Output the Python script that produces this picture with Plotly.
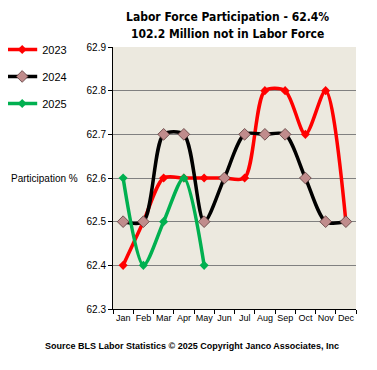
import plotly.graph_objects as go

months = ["Jan", "Feb", "Mar", "Apr", "May", "Jun", "Jul", "Aug", "Sep", "Oct", "Nov", "Dec"]
y2023 = [62.4, 62.5, 62.6, 62.6, 62.6, 62.6, 62.6, 62.8, 62.8, 62.7, 62.8, 62.5]
y2024 = [62.5, 62.5, 62.7, 62.7, 62.5, 62.6, 62.7, 62.7, 62.7, 62.6, 62.5, 62.5]
y2025 = [62.6, 62.4, 62.5, 62.6, 62.4]
y_ticks = [62.3, 62.4, 62.5, 62.6, 62.7, 62.8, 62.9]

fig = go.Figure()
fig.add_trace(go.Scatter(x=months, y=y2023, name="2023", mode="lines+markers",
                         line=dict(color="#FF0000", width=3.5, shape="spline", smoothing=0.8),
                         marker=dict(symbol="diamond", size=7, color="#FF0000"),
                         legendgroup="a"))
fig.add_trace(go.Scatter(x=months, y=y2024, name="2024", mode="lines+markers",
                         line=dict(color="#000000", width=3.5, shape="spline", smoothing=0.8),
                         marker=dict(symbol="diamond", size=9, color="#C08C8C",
                                     line=dict(color="#5a3a3a", width=0.8)),
                         legendgroup="b"))
fig.add_trace(go.Scatter(x=months[:len(y2025)], y=y2025, name="2025", mode="lines+markers",
                         line=dict(color="#00B050", width=3.5, shape="spline", smoothing=0.8),
                         marker=dict(symbol="diamond", size=7, color="#00B050"),
                         legendgroup="c"))

fig.update_layout(
    width=377, height=370,
    margin=dict(l=105, r=29, t=39, b=69, autoexpand=False),
    paper_bgcolor="white", plot_bgcolor="#ECE9DF",
    font=dict(family="Liberation Sans, Arial, sans-serif", size=10, color="black"),
    showlegend=True,
    legend=dict(x=-0.456, y=1.046, xanchor="left", yanchor="top", tracegroupgap=8,
                font=dict(size=11), bgcolor="rgba(0,0,0,0)", itemwidth=30),
    annotations=[
        dict(text="<b>Labor Force Participation - 62.4%</b>", x=0.47, y=1.0, xref="paper", yref="paper",
             xanchor="center", yanchor="bottom", yshift=21, showarrow=False,
             font=dict(size=12, family="DejaVu Sans Condensed, DejaVu Sans, sans-serif")),
        dict(text="<b>102.2 Million not in Labor Force</b>", x=0.47, y=1.0, xref="paper", yref="paper",
             xanchor="center", yanchor="bottom", yshift=4, showarrow=False,
             font=dict(size=12, family="DejaVu Sans Condensed, DejaVu Sans, sans-serif")),
        dict(text="Participation %", x=-0.136, y=62.6, xref="paper", yref="y",
             xanchor="right", yanchor="middle", showarrow=False, font=dict(size=10)),
        dict(text="<b>Source BLS Labor Statistics © 2025 Copyright Janco Associates, Inc</b>",
             x=0.325, y=0, xref="paper", yref="paper", xanchor="center", yanchor="top",
             yshift=-30, showarrow=False, font=dict(size=9)),
    ],
)
fig.update_xaxes(type="category", categoryorder="array", categoryarray=months, range=[-0.5, 11.5],
                 showline=True, linecolor="black", linewidth=1, ticks="outside", tickson="boundaries",
                 ticklen=4, tickcolor="black", showgrid=False, tickfont=dict(size=9), tickangle=0,
                 mirror=False, automargin=False)
fig.update_yaxes(range=[62.3, 62.9], tickvals=y_ticks, ticktext=[f"{v:.1f}" for v in y_ticks],
                 showline=True, linecolor="black", linewidth=1, ticks="outside", ticklen=4,
                 tickcolor="black", showgrid=True, gridcolor="#808080", gridwidth=1,
                 zeroline=False, tickfont=dict(size=10), automargin=False)

fig.write_html("out.html")
